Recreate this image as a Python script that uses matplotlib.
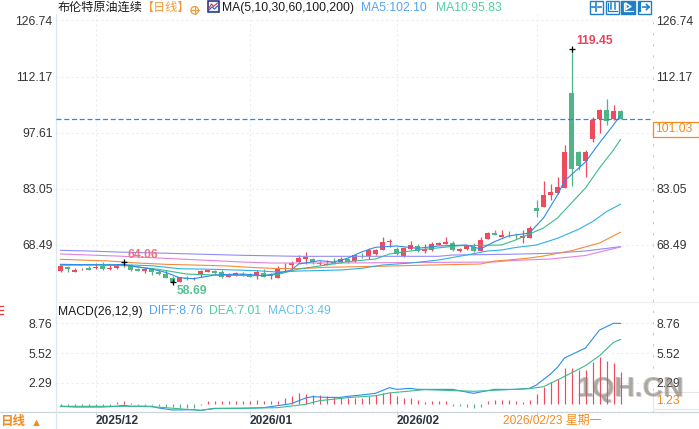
import matplotlib
matplotlib.use('Agg')
import matplotlib.pyplot as plt
from matplotlib.patches import Rectangle, Circle

plt.rcParams['font.family'] = ['Liberation Sans', 'Noto Sans CJK SC', 'DejaVu Sans']

# daily candles, oldest first
opens = [61.75, 62.7, 61.49, 62.11, 62.45, 62.37, 62.97, 62.19, 62.37, 62.89, 63.15, 62.27, 61.75, 62.11, 61.33, 60.89, 59.93,
         58.89, 59.93, 59.59, 60.63, 61.49, 61.67, 61.33, 60.19, 60.55, 60.89, 60.81, 60.55, 61.07, 60.45, 59.93, 62.45,
         63.15, 64.01, 64.79, 64.79, 63.49, 63.31, 63.93, 63.93, 64.79, 64.27, 65.39, 65.65, 66.09, 67.13, 69.29, 67.39,
         65.57, 67.39, 68.17, 66.87, 67.13, 68.43, 68.69, 69.03, 66.95, 67.39, 67.91, 66.87, 69.99, 71.55, 70.59, 70.77,
         70.77, 70.33, 70.33, 78.05, 78.39, 81.51, 81.87, 83.33, 107.99, 92.61, 90.27, 95.99, 101.19, 103.53, 101.11, 103.27]
closes = [62.97, 62.27, 61.93, 62.27, 62.06, 62.71, 62.11, 62.45, 62.97, 63.3, 61.93, 61.75, 62.19, 61.33, 60.81, 59.93, 58.93,
          60.11, 59.51, 59.93, 61.67, 61.93, 61.07, 60.19, 60.97, 61.07, 60.55, 60.19, 61.49, 60.19, 60.63, 62.19, 62.58,
          63.75, 65.05, 65.39, 63.93, 63.67, 63.49, 63.49, 64.79, 64.09, 65.75, 65.23, 67.13, 67.13, 69.13, 69.47, 66.09,
          67.73, 68.35, 66.87, 67.39, 68.69, 68.95, 69.21, 67.13, 67.47, 68.09, 66.87, 69.73, 71.55, 71.03, 71.03, 70.64,
          70.69, 70.85, 72.85, 77.35, 81.43, 82.21, 83.51, 92.61, 88.25, 88.97, 92.61, 100.93, 103.53, 100.75, 103.27, 101.03]
highs = [63.2, 62.85, 62.5, 62.45, 62.97, 63.67, 64.0, 63.15, 63.3, 64.06, 63.49, 62.5, 62.45, 62.45, 61.85, 61.93, 60.37,
         60.11, 60.37, 60.11, 61.93, 61.93, 61.93, 61.93, 61.23, 61.33, 61.49, 61.07, 61.93, 62.27, 61.07, 62.97, 63.67,
         64.27, 65.83, 66.53, 65.13, 64.27, 64.53, 64.97, 65.23, 65.13, 66.09, 66.27, 67.57, 67.39, 70.51, 69.99, 67.99,
         67.91, 69.47, 68.69, 68.69, 69.13, 69.29, 70.43, 69.55, 67.73, 68.51, 68.87, 70.51, 71.81, 72.33, 72.33, 72.07,
         71.47, 72.33, 73.37, 80.13, 85.07, 84.29, 86.19, 94.43, 119.45, 92.87, 93.13, 101.79, 103.79, 106.39, 104.83, 103.53]
lows = [61.4, 61.3, 61.49, 61.93, 61.93, 62.19, 61.93, 61.93, 62.3, 62.7, 61.8, 61.67, 61.23, 60.71, 60.76, 59.85, 58.69,
        58.89, 59.33, 59.46, 60.19, 61.41, 61.0, 59.85, 60.11, 60.37, 60.37, 60.03, 59.59, 60.11, 59.59, 59.93, 61.67,
        62.37, 63.67, 63.49, 63.41, 63.15, 63.23, 63.41, 63.83, 63.83, 64.01, 64.97, 64.79, 65.83, 67.13, 67.99, 65.83,
        65.39, 67.13, 66.61, 66.27, 66.95, 68.43, 68.69, 66.87, 66.69, 67.13, 66.61, 66.87, 69.99, 71.03, 70.59, 70.51,
        69.99, 69.03, 70.33, 75.79, 78.39, 80.13, 81.61, 83.33, 83.83, 87.93, 86.19, 95.29, 97.55, 99.67, 100.93, 101.03]

# moving averages, read at the candles listed in each *_idx
ma5_idx = [0, 7, 9, 11, 13, 15, 17, 19, 22, 26, 29, 31, 33, 34, 37, 39, 41, 43, 45, 48, 51, 54, 58, 60, 62, 64, 67, 69, 71, 72, 75, 77, 79, 80]
ma5 = [63.41, 63.23, 63.41, 62.71, 62.19, 61.33, 59.93, 59.67, 60.63, 60.89, 60.45, 61.07, 61.93, 63.49, 64.35, 64.01, 64.97,
       66.61, 67.83, 68.17, 67.57, 68.17, 68.43, 67.39, 69.29, 70.77, 71.55, 75.45, 81.43, 85.07, 90.01, 94.95, 99.63, 102.10]
ma10_idx = [0, 6, 10, 14, 18, 22, 28, 31, 34, 37, 41, 45, 47, 51, 57, 63, 65, 67, 69, 71, 73, 75, 77, 79, 80]
ma10 = [63.23, 63.31, 62.97, 62.11, 60.89, 60.63, 60.45, 60.76, 62.19, 62.97, 64.09, 64.79, 66.09, 67.13, 68.25, 68.43, 69.73,
        71.29, 72.85, 75.45, 79.35, 83.25, 88.45, 93.13, 95.83]
ma30_idx = [0, 6, 10, 13, 17, 22, 28, 31, 34, 40, 43, 46, 50, 54, 58, 61, 63, 65, 68, 71, 74, 76, 78, 80]
ma30 = [63.23, 63.31, 63.23, 63.05, 62.27, 62.11, 61.75, 61.41, 61.67, 61.93, 62.37, 63.23, 63.75, 64.53, 65.83, 66.87, 67.13,
        67.78, 68.43, 70.17, 72.51, 74.49, 77.09, 79.01]
ma60_idx = [0, 4, 7, 11, 15, 19, 24, 28, 31, 34, 38, 47, 53, 60, 62, 64, 67, 69, 73, 77, 80]
ma60 = [64.71, 64.45, 64.27, 63.75, 63.41, 63.23, 62.97, 62.53, 62.32, 62.27, 62.63, 62.97, 63.23, 63.49, 64.27, 64.53, 65.05,
        65.57, 66.95, 68.95, 71.73]
ma100_idx = [0, 4, 8, 14, 20, 26, 30, 40, 55, 62, 64, 70, 75, 77, 80]
ma100 = [66.09, 65.83, 65.57, 65.05, 64.53, 64.01, 63.75, 63.75, 63.93, 64.01, 64.35, 64.79, 65.7, 66.61, 67.91]
ma200_idx = [0, 4, 8, 14, 19, 26, 34, 54, 56, 64, 70, 75, 80]
ma200 = [67.05, 66.87, 66.61, 66.35, 66.09, 65.75, 65.49, 65.49, 65.83, 66.01, 66.27, 66.87, 67.99]

# MACD panel
macd_hist = [-0.18, -0.18, -0.18, -0.18, -0.18, -0.18, -0.18, -0.18, 0.18, 0.33, 0.15, -0.1, -0.1, -0.15, -0.2, -0.3, -0.35,
             -0.4, -0.45, -0.4, -0.15, 0.33, 0.3, 0.3, 0.3, 0.3, 0.3, 0.3, 0.43, 0.36, 0.29, 0.36, 0.69, 0.87, 1.2, 1.12,
             1.01, 0.94, 0.87, 0.8, 0.72, 0.65, 0.65, 0.65, 0.87, 0.94, 1.16, 1.27, 0.87, 0.65, 0.65, 0.4, 0.25, 0.29, 0.33,
             0.33, -0.18, -0.25, -0.36, -0.43, -0.3, 0.33, 0.43, 0.43, 0.43, 0.33, 0.25, 0.47, 1.09, 1.88, 2.36, 2.72, 3.91,
             3.91, 3.7, 3.7, 4.53, 5.07, 4.71, 4.46, 3.49]
diff_idx = [0, 2, 6, 8, 9, 10, 13, 14, 16, 19, 20, 21, 22, 26, 29, 31, 33, 35, 36, 38, 40, 41, 43, 45, 47, 48, 50, 51, 56, 59, 61, 62, 65, 67, 68, 70, 71, 72, 75, 77, 79, 80]
diff = [-0.25, -0.33, -0.33, -0.25, -0.14, -0.25, -0.25, -0.43, -0.65, -0.62, -0.69, -0.58, -0.47, -0.47, -0.4, -0.18, 0.04,
        0.65, 0.8, 0.72, 0.72, 0.83, 0.98, 1.16, 1.78, 1.59, 1.7, 1.59, 1.59, 1.16, 1.45, 1.59, 1.59, 1.7, 2.07, 3.26, 3.99,
        5.0, 6.09, 8.04, 8.77, 8.76]
dea_idx = [0, 8, 12, 15, 18, 20, 22, 31, 35, 37, 41, 45, 47, 49, 52, 59, 64, 67, 69, 72, 75, 77, 79, 80]
dea = [-0.25, -0.25, -0.25, -0.4, -0.58, -0.69, -0.5, -0.4, -0.04, 0.36, 0.69, 0.9, 1.2, 1.34, 1.56, 1.38, 1.56, 1.67, 1.88,
       3.0, 4.17, 5.25, 6.7, 7.01]

price_ticks = [126.74, 112.17, 97.61, 83.05, 68.49]
macd_ticks = [8.76, 5.52, 2.29]
month_idx = [5, 27, 48, 68]
month_labels = ['2025/12', '2026/01', '2026/02', '']
last_price = 101.03

RED = '#ee4b5f'
GREEN = '#4fb587'
BLUE = '#2b8cf0'
MINT = '#3dbb8a'
SKY = '#2fb0e6'
ORANGE = '#f58a3c'
PINK = '#e083dc'
PURPLE = '#8f8cf5'
GRID = '#e9eef1'

W, H = 699, 429
fig = plt.figure(figsize=(W / 100, H / 100), dpi=100)


def px_axes(left, top, right, bottom):
    return fig.add_axes([left / W, 1 - bottom / H, (right - left) / W, (bottom - top) / H])


def x_limits(left, right):
    return (left - 60.5) / 7, (right - 60.5) / 7


ax = px_axes(56, 14, 653, 301)
ax.set_xlim(*x_limits(56, 653))
ax.set_ylim(126.74 - (301 - 20.5) / 3.85, 126.74 + (20.5 - 14) / 3.85)

xs = list(range(len(opens)))
colors = [RED if c >= o else GREEN for o, c in zip(opens, closes)]
ax.vlines(xs, lows, highs, colors=colors, lw=0.9, zorder=2)
ax.bar(xs, [abs(c - o) for o, c in zip(opens, closes)], bottom=[min(o, c) for o, c in zip(opens, closes)],
       width=0.68, color=colors, lw=0, zorder=3)

for idx, vals, col in [(ma200_idx, ma200, PURPLE), (ma100_idx, ma100, PINK), (ma60_idx, ma60, ORANGE),
                       (ma30_idx, ma30, SKY), (ma10_idx, ma10, MINT), (ma5_idx, ma5, BLUE)]:
    ax.plot(idx, vals, color=col, lw=0.8, zorder=4)

# black crosses on the highest, lowest and left high
ax.plot([9, 16, 73], [highs[9], lows[16], highs[73]], ls='none', marker='+', ms=5, mew=0.9, color='black', zorder=6)
ax.axhline(last_price, color='#1a8cff', lw=0.9, ls=(0, (4, 2.2)), zorder=5)

ax.set_yticks(price_ticks)
ax.set_yticklabels(['%.2f' % v for v in price_ticks])
ax.set_xticks(month_idx)
ax.tick_params(axis='y', length=0, labelleft=True, labelright=True, labelsize=8.7, labelcolor='#333333', pad=2.5)
ax.tick_params(axis='x', length=0, labelbottom=False)
ax.grid(color=GRID, ls=(0, (2, 2.5)), lw=0.8)
ax.set_axisbelow(True)

sub = px_axes(56, 302, 653, 412)
sub.set_xlim(*x_limits(56, 653))
sub.set_ylim((404 - 412) / 9.2, (404 - 302) / 9.2)
hist_colors = [RED if v >= 0 else GREEN for v in macd_hist]
sub.vlines(xs, 0, macd_hist, colors=hist_colors, lw=0.85, zorder=2)
sub.plot(diff_idx, diff, color=BLUE, lw=0.8, zorder=4)
sub.plot(dea_idx, dea, color=MINT, lw=0.8, zorder=4)
sub.set_yticks(macd_ticks)
sub.set_yticklabels(['%.2f' % v for v in macd_ticks])
sub.set_xticks(month_idx)
sub.set_xticklabels(month_labels, ha='left', fontweight='bold', fontsize=8.6, color='#2b3440')
sub.tick_params(axis='y', length=0, labelleft=True, labelright=True, labelsize=8.7, labelcolor='#333333', pad=2.5)
sub.tick_params(axis='x', length=2.5, color='#c9d3da', width=0.8, pad=0)
sub.grid(color=GRID, ls=(0, (2, 2.5)), lw=0.8)
sub.set_axisbelow(True)

for a in (ax, sub):
    for side in ('top', 'bottom'):
        a.spines[side].set_visible(False)
    a.spines['left'].set_color('#dbe8f0')
    a.spines['left'].set_linewidth(0.9)
    a.spines['right'].set_color('#c4c9cc')
    a.spines['right'].set_linestyle((0, (1, 9)))
    a.spines['right'].set_linewidth(0.8)

# everything else is placed in pixels on a clear layer
top = fig.add_axes([0, 0, 1, 1], facecolor='none')
top.set_xlim(0, W)
top.set_ylim(H, 0)
top.axis('off')

top.plot([56, W], [301.5, 301.5], color='#eef1f4', lw=0.9)
top.plot([0, W], [412.3, 412.3], color='#cdd5da', lw=0.9)
top.plot([56, 56], [412, H], color='#dbe8f0', lw=0.9)
for yy in [306, 310, 314]:
    top.plot([0, 3], [yy, yy], color='#ea3a3a', lw=0.9)


def label(x, y, s, color='#222222', size=8.7, **kw):
    top.text(x, y, s, color=color, fontsize=size, va='center', **kw)


label(58, 7.5, '布伦特原油连续', color='#1a1a1a')
label(142, 7.5, '【日线】', color='#f59a3a')
label(222, 8, 'MA(5,10,30,60,100,200)', color='#1a1a1a')
label(361, 8, 'MA5:102.10', color='#55a3f3')
label(436, 8, 'MA10:95.83', color='#52cfa0')
label(58, 311.5, 'MACD(26,12,9)', color='#1a1a1a')
label(149, 311.5, 'DIFF:8.76', color='#55a3f3')
label(209, 311.5, 'DEA:7.01', color='#52cfa0')
label(268, 311.5, 'MACD:3.49', color='#62c3ee')

label(128, 254.5, '64.06', color='#f2727f', fontweight='bold')
label(177, 290.5, '58.69', color='#55c293', fontweight='bold')
label(576, 41, '119.45', color='#e8445c', fontweight='bold')

# price and crosshair boxes
top.add_patch(Rectangle((652.5, 122), 46, 15.3, fc='white', ec='#f58a1f', lw=0.9, zorder=8))
label(655.5, 129.5, '101.03', color='#f58a1f', zorder=9)
top.add_patch(Rectangle((652.5, 392), 46, 17, fc='white', ec='#e4e7ea', lw=0.8, zorder=8))
label(656, 401, '1.23', color='#f58a1f', zorder=9)
label(552, 420.5, '2026/02/23 星期一', color='#f58a1f', size=8.6, ha='center')
label(0.5, 422.5, '日线', color='#f58a1f', size=9, fontweight='bold')
label(30.5, 422.5, '▲', color='#f58a1f', size=8)

# title icons
top.add_patch(Circle((194.7, 10.3), 3.8, fc='none', ec='#f59a3a', lw=0.9))
top.plot([190.5, 199], [10.3, 10.3], color='#f59a3a', lw=0.8)
top.plot([194.7, 194.7], [6.5, 14], color='#f59a3a', lw=0.8)
top.add_patch(Rectangle((207.5, 0.5), 11.5, 11.5, fc='#eef3fb', ec='#1b2a78', lw=1.1))
top.plot([209, 211.5, 213.5, 217.5], [8, 4, 6.5, 3], color='#d9363e', lw=0.8)
top.plot([209, 212, 214.5, 217.5], [10, 7, 9, 6], color='#2b5fd0', lw=0.8)

ICON = '#1f7fc4'
for i, x0 in enumerate([589.5, 605.5, 621.2, 637.5]):
    top.add_patch(Rectangle((x0, 0.5), 13.3, 13.2, fc=ICON if i == 2 else 'white', ec=ICON, lw=1))
top.plot([596.2, 596.2], [3, 6], color=ICON, lw=1.2)
top.plot([596.2, 596.2], [8, 11], color=ICON, lw=1.2)
top.plot([592, 595], [7, 7], color=ICON, lw=1.2)
top.plot([597.5, 600.5], [7, 7], color=ICON, lw=1.2)
top.plot([608, 608, 617], [2.5, 11, 11], color=ICON, lw=0.9)
top.plot([611, 611], [3, 9], color=ICON, lw=1.1)
top.plot([614.5, 614.5], [3, 9], color=ICON, lw=1.1)
top.plot([623.5, 623.5, 633], [2.5, 11, 11], color='white', lw=0.9)
top.plot([626, 626, 631, 626], [3.5, 9.5, 6.5, 3.5], color='white', lw=1.1)
top.plot([640, 640], [3, 11], color=ICON, lw=1.6)
top.plot([643, 649], [7, 7], color=ICON, lw=1.2)
top.plot([646.5, 649, 646.5], [4.5, 7, 9.5], color=ICON, lw=1.2)

# watermark
top.text(631, 390, '1QH.CN', color='#6f6f6f', alpha=0.3, fontsize=20.5, fontweight='bold', ha='center', va='center', zorder=10)
top.text(630, 389, '1QH.CN', color='#8c8378', alpha=0.55, fontsize=20.5, fontweight='bold', ha='center', va='center', zorder=11)

fig.savefig('out.png', dpi=100)
